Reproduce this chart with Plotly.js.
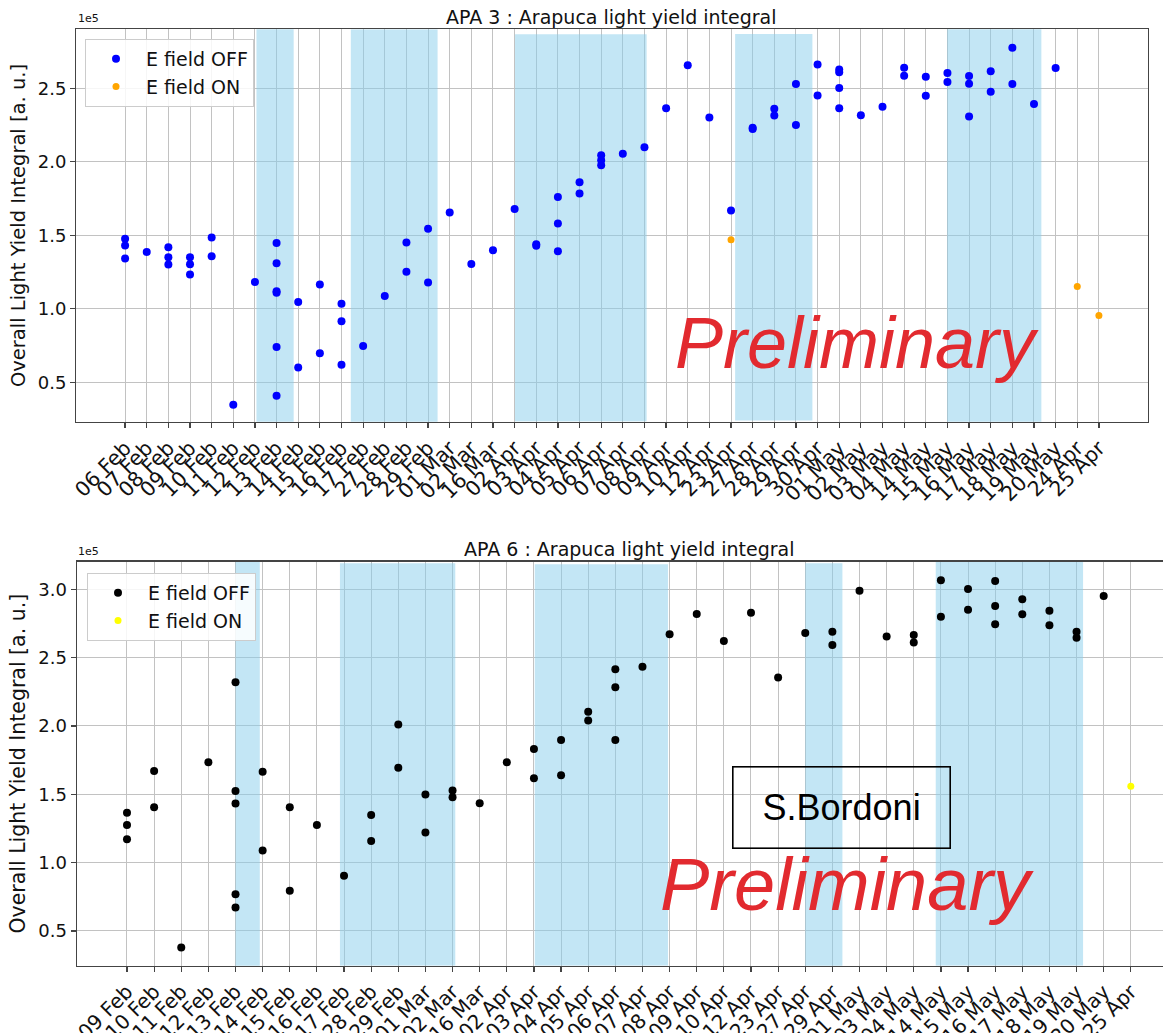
<!DOCTYPE html>
<html>
<head>
<meta charset="utf-8">
<script src="https://cdn.plot.ly/plotly-3.0.1.min.js"></script>
<style>
html, body { margin: 0; padding: 0; overflow: hidden; background: #fff; }
#chart { width: 1190px; height: 1033px; }
</style>
</head>
<body>
<div id="chart"></div>
<script>
// ---------- APA 3 (top) ----------
const apa3Dates = ['06 Feb','07 Feb','08 Feb','09 Feb','10 Feb','11 Feb','12 Feb','13 Feb','14 Feb','15 Feb','16 Feb','17 Feb','27 Feb','28 Feb','29 Feb','01 Mar','02 Mar','16 Mar','02 Apr','03 Apr','04 Apr','05 Apr','06 Apr','07 Apr','08 Apr','09 Apr','10 Apr','12 Apr','23 Apr','27 Apr','28 Apr','29 Apr','30 Apr','01 May','02 May','03 May','04 May','14 May','15 May','16 May','17 May','18 May','19 May','20 May','24 Apr','25 Apr'];
// E field OFF values (x1e5) per date, aligned with apa3Dates
const apa3Off = [
  [1.477, 1.431, 1.342], [1.387], [1.419, 1.351, 1.301], [1.351, 1.303, 1.233], [1.485, 1.358],
  [0.347], [1.183], [1.448, 1.310, 1.119, 1.110, 0.740, 0.409], [1.046, 0.600], [1.165, 0.697],
  [1.035, 0.915, 0.620], [0.747], [1.087], [1.451, 1.253], [1.545, 1.180],
  [1.655], [1.305], [1.398], [1.680], [1.440, 1.430],
  [1.761, 1.580, 1.392], [1.861, 1.784], [2.045, 2.011, 1.977], [2.055], [2.100],
  [2.364], [2.657], [2.302], [1.669], [2.232, 2.223],
  [2.361, 2.316], [2.529, 2.250], [2.663, 2.452], [2.629, 2.609, 2.502, 2.364], [2.318],
  [2.375], [2.640, 2.586], [2.579, 2.450], [2.604, 2.543], [2.584, 2.531, 2.309],
  [2.616, 2.477], [2.777, 2.529], [2.393], [2.638], [], []
];
const apa3OnDates = ['23 Apr', '24 Apr', '25 Apr'];
const apa3OnValues = [1.470, 1.152, 0.955];
// shaded periods (category index units) and their vertical extent (x1e5)
const apa3BandStart = [6.07, 10.43, 18.02, 28.19, 37.99];
const apa3BandEnd   = [7.79, 14.44, 24.10, 31.76, 42.34];
const apa3BandTop   = [2.924, 2.902, 2.868, 2.870, 2.924];
const apa3BandBot   = [0.186, 0.200, 0.234, 0.240, 0.229];

// ---------- APA 6 (bottom) ----------
const apa6Dates = ['09 Feb','10 Feb','11 Feb','12 Feb','13 Feb','14 Feb','15 Feb','16 Feb','17 Feb','28 Feb','29 Feb','01 Mar','02 Mar','16 Mar','02 Apr','03 Apr','04 Apr','05 Apr','06 Apr','07 Apr','08 Apr','09 Apr','10 Apr','12 Apr','23 Apr','27 Apr','29 Apr','01 May','03 May','04 May','14 May','15 May','16 May','17 May','18 May','19 May','20 May','25 Apr'];
const apa6Off = [
  [1.366, 1.276, 1.171], [1.671, 1.405], [0.380], [1.734], [2.320, 1.524, 1.432, 0.768, 0.671],
  [1.666, 1.088], [1.405, 0.795], [1.276], [0.905], [1.349, 1.159],
  [2.010, 1.695], [1.498, 1.220], [1.527, 1.478], [1.434], [1.734],
  [1.832, 1.617], [1.898, 1.639], [2.105, 2.041], [2.415, 2.283, 1.898], [2.434],
  [2.671], [2.820], [2.622], [2.829], [2.354],
  [2.680], [2.690, 2.593], [2.990], [2.654], [2.666, 2.610],
  [3.066, 2.800], [3.002, 2.851], [3.061, 2.878, 2.744], [2.927, 2.817], [2.844, 2.737],
  [2.690, 2.646], [2.951], []
];
const apa6OnDates = ['25 Apr'];
const apa6OnValues = [1.559];
const apa6BandStart = [4.00, 7.85, 15.03, 25.00, 29.81];
const apa6BandEnd   = [4.895, 12.10, 19.94, 26.37, 35.24];
const apa6BandTop   = [3.202, 3.190, 3.183, 3.190, 3.200];
const apa6BandBot   = [0.230, 0.246, 0.246, 0.200, 0.246];

// ---------- helpers ----------
function flatten(dates, groups) {
  const x = [], y = [];
  groups.forEach((g, i) => g.forEach(v => { x.push(dates[i]); y.push(v); }));
  return {x, y};
}
function bands(starts, ends, tops, bots, xr, yr) {
  return starts.map((s, i) => ({
    type: 'rect', xref: xr, yref: yr, x0: s, x1: ends[i], y0: bots[i], y1: tops[i],
    fillcolor: 'rgba(135,206,235,0.5)', line: {width: 0}, layer: 'between'
  }));
}

const W = 1190, H = 1033;
const px = v => v / W, py = v => 1 - v / H;

const a3 = flatten(apa3Dates, apa3Off);
const a6 = flatten(apa6Dates, apa6Off);

const traces = [
  {x: a3.x, y: a3.y, type: 'scatter', mode: 'markers', name: 'E field OFF',
   marker: {color: '#0000ff', size: 8}, xaxis: 'x', yaxis: 'y', legend: 'legend'},
  {x: apa3OnDates, y: apa3OnValues, type: 'scatter', mode: 'markers', name: 'E field ON',
   marker: {color: '#ffa500', size: 7}, xaxis: 'x', yaxis: 'y', legend: 'legend'},
  {x: a6.x, y: a6.y, type: 'scatter', mode: 'markers', name: 'E field OFF',
   marker: {color: '#000000', size: 8}, xaxis: 'x2', yaxis: 'y2', legend: 'legend2'},
  {x: apa6OnDates, y: apa6OnValues, type: 'scatter', mode: 'markers', name: 'E field ON',
   marker: {color: '#ffff00', size: 7}, xaxis: 'x2', yaxis: 'y2', legend: 'legend2'}
];

const gridC = '#c2c2c2', lineC = '#444444';
function xAxis(dates, domain, range, anchor, fs) {
  return {
    domain, anchor, type: 'category', categoryorder: 'array', categoryarray: dates,
    tickmode: 'array', tickvals: dates, ticktext: dates,
    range, tickangle: -45, showgrid: true, gridcolor: gridC, gridwidth: 1,
    showline: true, linecolor: lineC, linewidth: 1.3, mirror: true,
    ticks: 'outside', ticklen: 5, tickcolor: lineC, tickwidth: 1.2,
    tickfont: {size: fs, color: '#111'}, zeroline: false, automargin: false
  };
}
function yAxis(domain, range, anchor, tickvals, fs) {
  return {
    domain, anchor, range, tickvals, tickformat: '.1f',
    showgrid: true, gridcolor: gridC, gridwidth: 1,
    showline: true, linecolor: lineC, linewidth: 1.3, mirror: true,
    ticks: 'outside', ticklen: 5, tickcolor: lineC, tickwidth: 1.2,
    tickfont: {size: 18, color: '#111'}, zeroline: false, automargin: false,
    title: {text: 'Overall Light Yield Integral [a. u.]', font: {size: fs, color: '#111'}, standoff: 7}
  };
}

const legendBase = {
  xanchor: 'left', yanchor: 'top', itemwidth: 50,
  bgcolor: 'rgba(255,255,255,0.85)', bordercolor: '#cccccc', borderwidth: 1,
  font: {size: 19, color: '#111'}
};

const layout = {
  width: W, height: H,
  margin: {l: 0, r: 0, t: 0, b: 0},
  paper_bgcolor: '#ffffff', plot_bgcolor: '#ffffff',
  font: {family: 'DejaVu Sans', color: '#111'},
  showlegend: true,
  xaxis: xAxis(apa3Dates, [px(76.4), px(1147.6)], [-2.25, 47.25], 'y', 20.5),
  yaxis: yAxis([py(421.7), py(29.3)], [0.232, 2.902], 'x', [0.5, 1.0, 1.5, 2.0, 2.5], 19.5),
  xaxis2: xAxis(apa6Dates, [px(76.8), px(1181)], [-1.85, 38.85], 'y2', 20),
  yaxis2: yAxis([py(965.7), py(561.7)], [0.246, 3.202], 'x2', [0.5, 1.0, 1.5, 2.0, 2.5, 3.0], 20.5),
  legend: Object.assign({x: px(85), y: py(39)}, legendBase),
  legend2: Object.assign({x: px(87), y: py(573)}, legendBase),
  shapes: [].concat(
    bands(apa3BandStart, apa3BandEnd, apa3BandTop, apa3BandBot, 'x', 'y'),
    bands(apa6BandStart, apa6BandEnd, apa6BandTop, apa6BandBot, 'x2', 'y2')
  ),
  annotations: [
    {text: 'APA 3 : Arapuca light yield integral', xref: 'paper', yref: 'paper',
     x: px(612), y: py(16.7), xanchor: 'center', yanchor: 'middle', showarrow: false,
     font: {size: 19, color: '#111'}},
    {text: 'APA 6 : Arapuca light yield integral', xref: 'paper', yref: 'paper',
     x: px(629), y: py(549), xanchor: 'center', yanchor: 'middle', showarrow: false,
     font: {size: 19, color: '#111'}},
    {text: '1e5', xref: 'paper', yref: 'paper', x: px(76), y: py(19), xanchor: 'left', yanchor: 'middle',
     showarrow: false, font: {size: 11, color: '#111'}},
    {text: '1e5', xref: 'paper', yref: 'paper', x: px(76), y: py(551), xanchor: 'left', yanchor: 'middle',
     showarrow: false, font: {size: 11, color: '#111'}},
    {text: 'Preliminary', xref: 'paper', yref: 'paper', x: px(857), y: py(343),
     xanchor: 'center', yanchor: 'middle', showarrow: false,
     font: {family: 'Liberation Sans', size: 72, color: '#e22a2f', style: 'italic'}},
    {text: 'Preliminary', xref: 'paper', yref: 'paper', x: px(846.5), y: py(884),
     xanchor: 'center', yanchor: 'middle', showarrow: false,
     font: {family: 'Liberation Sans', size: 74, color: '#e22a2f', style: 'italic'}},
    {text: 'S.Bordoni', xref: 'paper', yref: 'paper', x: px(841.5), y: py(807),
     xanchor: 'center', yanchor: 'middle', showarrow: false, width: 216, height: 80,
     bgcolor: 'rgba(255,255,255,0)', bordercolor: '#000000', borderwidth: 1.6, borderpad: 0,
     font: {family: 'Liberation Sans', size: 36, color: '#000'}}
  ]
};

Plotly.newPlot('chart', traces, layout, {displayModeBar: false, staticPlot: true});
</script>
</body>
</html>
